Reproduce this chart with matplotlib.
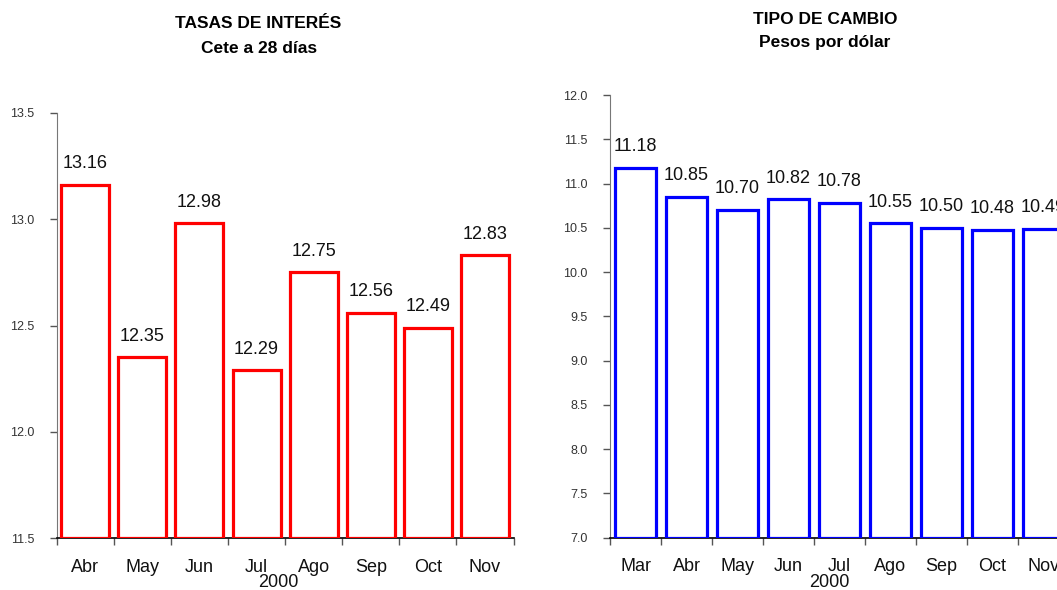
import numpy as np
import matplotlib
matplotlib.use('Agg')
from matplotlib import pyplot as plt

plt.rcParams['font.family'] = ['Liberation Sans', 'DejaVu Sans']

# Tasas de interes, Cete a 28 dias
meses_tasa = ['Abr', 'May', 'Jun', 'Jul', 'Ago', 'Sep', 'Oct', 'Nov']
tasa = [13.16, 12.35, 12.98, 12.29, 12.75, 12.56, 12.49, 12.83]
tasa_yticks = [11.5, 12.0, 12.5, 13.0, 13.5]

# Tipo de cambio, pesos por dolar
meses_tc = ['Mar', 'Abr', 'May', 'Jun', 'Jul', 'Ago', 'Sep', 'Oct', 'Nov']
cambio = [11.18, 10.85, 10.70, 10.82, 10.78, 10.55, 10.50, 10.48, 10.49]
tc_yticks = [7.0, 7.5, 8.0, 8.5, 9.0, 9.5, 10.0, 10.5, 11.0, 11.5, 12.0]

W, H = 1057, 590
fig = plt.figure(figsize=(W / 100, H / 100), dpi=100, facecolor='w')


def px(x0, y0, x1, y1):
    # pixel box -> figure fraction rect
    return [x0 / W, 1 - y1 / H, (x1 - x0) / W, (y1 - y0) / H]


def panel(ax, meses, vals, yticks, color, width):
    n = len(meses)
    x = np.arange(n)
    bars = ax.bar(x, np.array(vals) - yticks[0], bottom=yticks[0], width=width,
                  facecolor='white', edgecolor=color, linewidth=2.3, zorder=3)
    for b, v in zip(bars, vals):
        ax.annotate('%.2f' % v, (b.get_x() + b.get_width() / 2, v),
                    xytext=(0, 12), textcoords='offset points',
                    ha='center', va='baseline', fontsize=13, color='#111111',
                    annotation_clip=False)
    ax.set_xlim(-0.5, n - 0.5)
    ax.set_ylim(yticks[0], yticks[-1])
    ax.set_yticks(yticks)
    ax.set_yticklabels(['%.1f' % t for t in yticks])
    ax.set_xticks(x)
    ax.set_xticklabels(meses)
    ax.set_xticks(np.arange(n + 1) - 0.5, minor=True)
    ax.tick_params(axis='x', which='major', length=0, pad=15, labelsize=13,
                   labelcolor='#111111')
    ax.tick_params(axis='x', which='minor', length=5, width=1, color='#555555',
                   direction='out')
    ax.tick_params(axis='y', length=5, width=1, color='#555555', pad=11,
                   labelsize=9, labelcolor='#333333')
    for s in ['top', 'right']:
        ax.spines[s].set_visible(False)
    ax.spines['left'].set_color('#777777')
    ax.spines['bottom'].set_color('black')
    ax.spines['bottom'].set_linewidth(1.2)


ax1 = fig.add_axes(px(56.7, 112.7, 513.5, 538.3))
panel(ax1, meses_tasa, tasa, tasa_yticks, 'red', 0.84)

ax2 = fig.add_axes(px(610, 95, 1069, 537.5))
panel(ax2, meses_tc, cambio, tc_yticks, 'blue', 0.81)

# year labels under the month axis
fig.text(278 / W, 1 - 587 / H, '2000', ha='center', va='baseline',
         fontsize=13, color='#111111')
fig.text(829 / W, 1 - 587 / H, '2000', ha='center', va='baseline',
         fontsize=13, color='#111111')

fig.text(257.7 / W, 1 - 28 / H, 'TASAS DE INTERÉS', ha='center', va='baseline',
         fontsize=12.5, fontweight='bold')
fig.text(259.5 / W, 1 - 53.3 / H, 'Cete a 28 días', ha='center', va='baseline',
         fontsize=12.5, fontweight='bold')
fig.text(825.5 / W, 1 - 24 / H, 'TIPO DE CAMBIO', ha='center', va='baseline',
         fontsize=12.5, fontweight='bold')
fig.text(825 / W, 1 - 47.5 / H, 'Pesos por dólar', ha='center', va='baseline',
         fontsize=12.5, fontweight='bold')

plt.savefig('out.png', dpi=100)
